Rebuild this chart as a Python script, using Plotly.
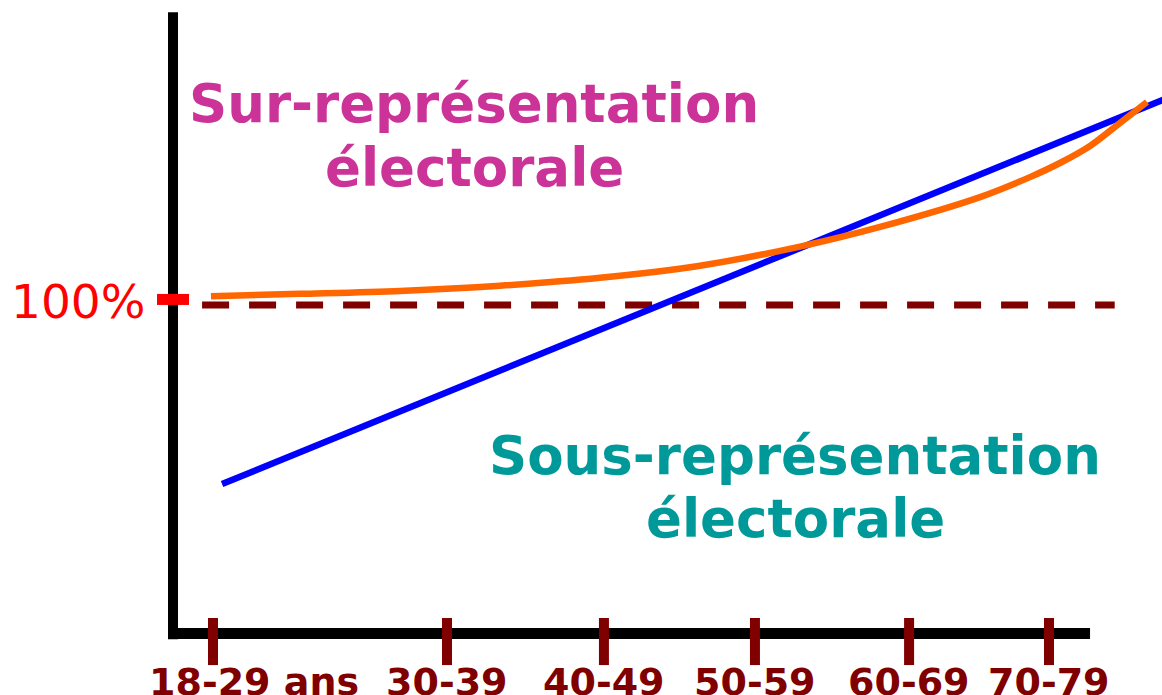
import plotly.graph_objects as go

# ---------------- data ----------------
age_groups = ["18-29 ans", "30-39", "40-49", "50-59", "60-69", "70-79"]
age_pos = [0.0, 1.5, 2.506, 3.474, 4.462, 5.359]          # position of each age group on the axis
reference_level = 100                                      # 100 % line

# blue straight line (representation, %)
blue_x = [0.058, 6.2]
blue_y = [45.4, 164.7]

# orange curve (representation, %)
orange_x = [-0.013, 0.558, 1.199, 1.840, 2.481, 3.122, 3.763, 4.276, 4.917, 5.237, 5.429, 5.622, 5.782, 5.987]
orange_y = [102.7, 103.4, 104.3, 105.9, 108.3, 112.0, 117.8, 123.8, 132.9, 139.0, 143.3, 148.5, 154.3, 161.9]

# ---------------- styling ----------------
FONT = "DejaVu Sans"
MAROON = "#800000"
X_RANGE = [-1.3654, 6.0833]
Y_RANGE = [-18.9, 193.0]
AXIS_X = -0.2564      # where the vertical axis stands
AXIS_X_END = 5.622
AXIS_Y_TOP = 189.3

fig = go.Figure()

# reference dashed line at 100 %
fig.add_trace(go.Scatter(
    x=[-0.07, 5.78], y=[reference_level, reference_level], mode="lines",
    line=dict(color=MAROON, width=7, dash="27px,20px"), hoverinfo="skip"))

# blue line
fig.add_trace(go.Scatter(
    x=blue_x, y=blue_y, mode="lines",
    line=dict(color="#0000FF", width=6.5), hoverinfo="skip"))

# orange curve
fig.add_trace(go.Scatter(
    x=orange_x, y=orange_y, mode="lines",
    line=dict(color="#FF6600", width=6.5, shape="spline", smoothing=0.9), hoverinfo="skip"))

shapes = [
    # vertical axis
    dict(type="line", xref="x", yref="y", x0=AXIS_X, x1=AXIS_X, y0=-1.9, y1=AXIS_Y_TOP,
         line=dict(color="black", width=10), layer="below"),
    # horizontal axis
    dict(type="line", xref="x", yref="y", x0=AXIS_X - 0.032, x1=AXIS_X_END, y0=-0.15, y1=-0.15,
         line=dict(color="black", width=11), layer="below"),
    # red 100 % tick
    dict(type="line", xref="x", yref="y", x0=-0.359, x1=-0.154, y0=reference_level + 1.7,
         y1=reference_level + 1.7, line=dict(color="#FF0000", width=11), layer="above"),
]
fig.update_layout(shapes=shapes)

# age-group ticks crossing the axis
fig.add_trace(go.Scatter(
    x=age_pos, y=[-2.6] * len(age_pos), mode="markers",
    marker=dict(symbol="line-ns", size=33.6, line=dict(color=MAROON, width=10)),
    hoverinfo="skip", cliponaxis=False))

annotations = []
# age-group labels
for i, (lab, xp) in enumerate(zip(age_groups, age_pos)):
    annotations.append(dict(
        x=xp, y=1 - 682 / 695, xref="x", yref="paper", text=lab, showarrow=False,
        xanchor="center", yanchor="middle", xshift=41 if i == 0 else 0,
        font=dict(family=FONT, size=38, color=MAROON, weight="bold")))

# 100 % label
annotations.append(dict(
    x=77.5 / 1162, y=1 - 301 / 695, xref="paper", yref="paper", text="100%",
    showarrow=False, xanchor="center", yanchor="middle",
    font=dict(family=FONT, size=47, color="#FF0000")))

# region labels
region_texts = [
    ("Sur-représentation", 474, 103, "#CC3399"),
    ("électorale", 474, 167, "#CC3399"),
    ("Sous-représentation", 795, 455, "#009999"),
    ("électorale", 795, 518, "#009999"),
]
for txt, px, py, col in region_texts:
    annotations.append(dict(
        x=px / 1162, y=1 - py / 695, xref="paper", yref="paper", text=txt,
        showarrow=False, xanchor="center", yanchor="middle",
        font=dict(family=FONT, size=53, color=col, weight="bold")))

fig.update_layout(
    annotations=annotations,
    width=1162, height=695,
    margin=dict(l=0, r=0, t=0, b=0),
    paper_bgcolor="white", plot_bgcolor="white",
    showlegend=False,
    xaxis=dict(range=X_RANGE, visible=False, fixedrange=True),
    yaxis=dict(range=Y_RANGE, visible=False, fixedrange=True),
)

fig.write_html("out.html", config={"displayModeBar": False},
               post_script="document.body.style.margin='0px';document.body.style.overflow='hidden';")
